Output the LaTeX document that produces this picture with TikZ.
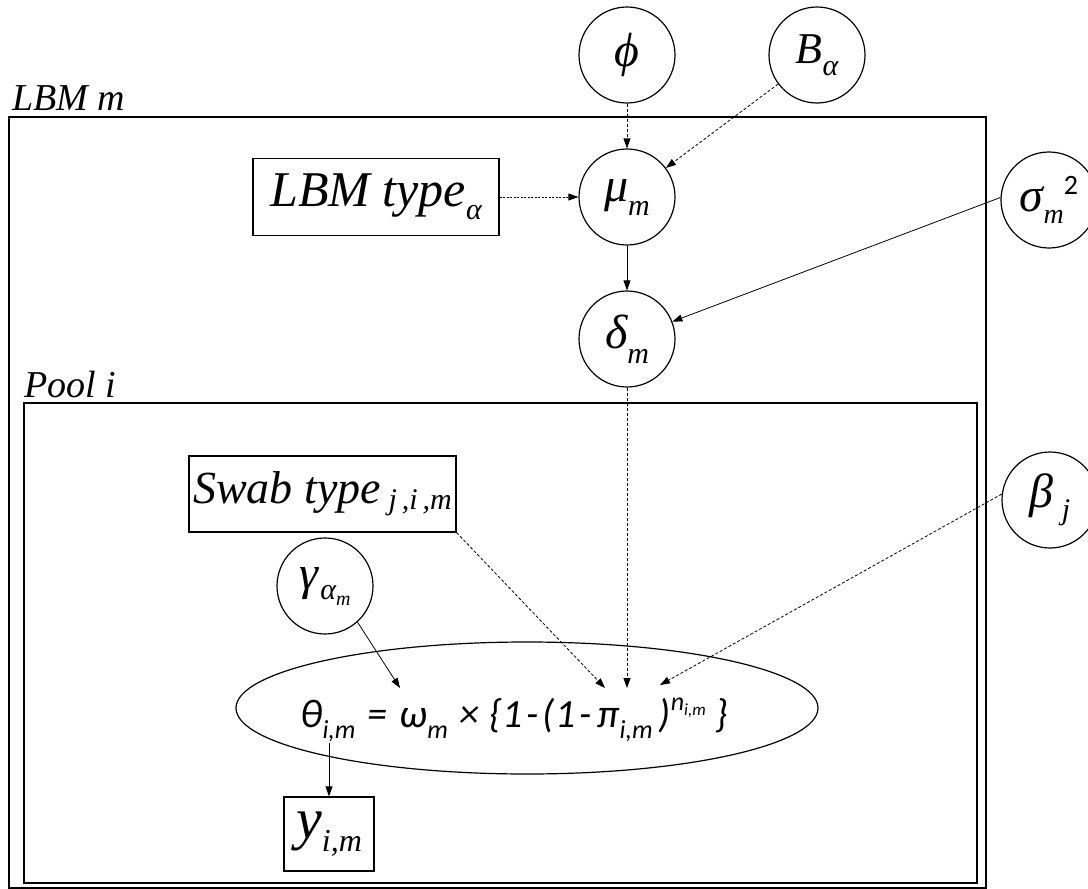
\documentclass[tikz,border=0pt]{standalone}
\usepackage{fontspec}
\setmainfont{Liberation Serif}
\newfontfamily\calib{Carlito}
\usetikzlibrary{arrows.meta,shapes.geometric}
\newcommand\shft[3]{\raisebox{#1}{\fontsize{#2}{#2}\selectfont #3}}
\begin{document}
\begin{tikzpicture}[x=1pt,y=1pt,
  var/.style={circle,draw,line width=1.2pt,minimum size=96pt,inner sep=0pt,font=\itshape},
  boxnode/.style={rectangle,draw,line width=1.2pt,inner sep=0pt,font=\itshape},
  plate/.style={rectangle,draw,line width=1.8pt,inner sep=0pt,anchor=north west},
  solidarr/.style={line width=0.8pt,-{Triangle[length=10pt,width=7pt]}},
  dasharr/.style={solidarr,dash pattern=on 3pt off 2pt},
  dotarr/.style={solidarr,dash pattern=on 2pt off 1.5pt},
  lab/.style={anchor=base west,inner sep=0pt,font=\itshape\fontsize{38}{38}\selectfont}]
\useasboundingbox (0,0) rectangle (1088,-889);

% plates
\node[plate,minimum width=977pt,minimum height=771pt] (outer) at (8,-116) {};
\node[lab] (lbmlab) at (12,-110) {LBM m};
\node[plate,minimum width=953pt,minimum height=480pt] (pool) at (23,-402) {};
\node[lab] (poollab) at (24,-397) {Pool i};

% variables
\node[var] (phi) at (627,-55) {\fontsize{48}{48}\selectfont ϕ};
\node[var] (B) at (817,-55) {\fontsize{44}{44}\selectfont B\shft{-12pt}{30}{α}};
\node[var] (mu) at (627,-197) {\fontsize{48}{48}\selectfont μ\shft{-14pt}{30}{m}};
\node[var] (delta) at (627,-339) {\fontsize{48}{48}\selectfont δ\shft{-15pt}{30}{m}};
\node[var] (sigma) at (1049,-200) {\fontsize{48}{48}\selectfont σ\shft{-12pt}{28}{m}\shft{17pt}{28}{\upshape\calib 2}};
\node[var] (beta) at (1050,-500) {\fontsize{48}{48}\selectfont β\,\shft{-12pt}{30}{j}};
\node[var] (gamma) at (325,-586) {\fontsize{48}{48}\selectfont γ\hspace{2pt}\shft{-10pt}{30}{α\shft{-6pt}{20}{m}}};

\node[boxnode,minimum width=246pt,minimum height=77pt] (lbmtype) at (376,-197)
  {\fontsize{50}{50}\selectfont LBM type\shft{-13pt}{30}{α}};
\node[boxnode,minimum width=267pt,minimum height=76pt] (swab) at (322.5,-494)
  {\fontsize{46}{46}\selectfont Swab type\,\shft{-6pt}{30}{j\,,i\,,m}};
\node[boxnode,minimum width=90pt,minimum height=74pt] (y) at (329,-834)
  {\fontsize{58}{58}\selectfont y\shft{-13pt}{32}{i,m}};

% likelihood
\node[ellipse,draw,line width=1.2pt,minimum width=582pt,minimum height=132pt,inner sep=0pt] (ell) at (527,-708) {};
\node[anchor=base west,inner sep=0pt,font=\calib\itshape\fontsize{40}{40}\selectfont] (formula) at (300,-727)
  {θ\shft{-11pt}{26}{i,m}\hspace{12pt}=\hspace{12pt}ω\shft{-11pt}{26}{m}\hspace{12pt}×\hspace{10pt}\{1\hspace{4pt}-\hspace{4pt}(1\hspace{4pt}-\hspace{6pt}π\shft{-11pt}{26}{i,m}\hspace{6pt})\shft{17pt}{26}{n\shft{-5pt}{17}{i,m}}\hspace{10pt}\}};

\coordinate (omegaT) at (400,-688);
\coordinate (piL) at (605,-688);
\coordinate (piT) at (627,-688);
\coordinate (piR) at (660,-685);
\coordinate (thetaB) at (329,-743);

% connectors
\draw[dasharr] (phi) -- (mu);
\draw[dasharr] (B) -- (mu);
\draw[dotarr] (lbmtype) -- (mu);
\draw[solidarr] (mu) -- (delta);
\draw[solidarr] (sigma.177) -- (delta.21);
\draw[dasharr] (delta) -- (piT);
\draw[dasharr] (swab.south east) -- (piL);
\draw[dasharr] (beta.173) -- (piR);
\draw[solidarr] (gamma.-48) -- (omegaT);
\draw[solidarr] (thetaB) -- (y);
\end{tikzpicture}
\end{document}
